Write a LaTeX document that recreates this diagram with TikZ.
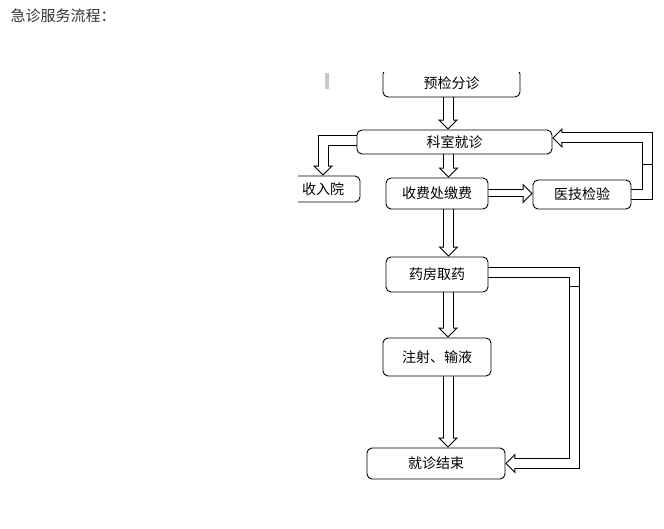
\documentclass[tikz,border=0pt]{standalone}
\usepackage{fontspec}
\setmainfont{Noto Sans CJK SC}
\usetikzlibrary{arrows.meta,backgrounds}
\usepackage{xcolor}
\definecolor{titlegray}{HTML}{333333}
\definecolor{cursorgray}{HTML}{C8C8C8}
\tikzset{%
  box/.style={draw, rounded corners=5pt, fill=white, line width=0.9pt, inner sep=0pt, font=\fontsize{14}{14}\selectfont},
  cross/.style={line width=1pt}
}

\begin{document}
\begin{tikzpicture}[x=1pt, y=-1pt]
    \useasboundingbox (0,0) rectangle (664,529);
    \node[anchor=west, text=titlegray, font=\fontsize{15}{15}\selectfont] (title) at (7,16) {急诊服务流程：};

    % the flow chart is cut at the top and on the left
    \begin{scope}
    \clip (298,73) rectangle (664,529);
    \fill[cursorgray] (325,73) rectangle (329,89);
    \node[box, minimum width=137pt, minimum height=28pt] (pre) at (451.5,83) {预检分诊};
    \node[box, minimum width=195pt, minimum height=24pt] (clinic) at (454.5,142) {科室就诊};
    \node[box, minimum width=74pt, minimum height=26pt] (admit) at (323,189) {收入院};
    \node[box, minimum width=102pt, minimum height=31pt] (pay) at (437,193.5) {收费处缴费};
    \node[box, minimum width=98pt, minimum height=29pt] (lab) at (582,194.5) {医技检验};
    \node[box, minimum width=102pt, minimum height=35pt] (pharm) at (437,274.5) {药房取药};
    \node[box, minimum width=108pt, minimum height=38pt] (inject) at (437,357) {注射、输液};
    \node[box, minimum width=138pt, minimum height=31pt] (done) at (436,463.5) {就诊结束};
    \end{scope}

    % hollow arrows: black pass, then white pass
    \begin{scope}[on background layer]
    \foreach \lw/\col/\hl/\hw/\gap in {11/black/10/20/0, 9/white/7.6/15.2/1.41} {
      \begin{scope}[color=\col, line width=\lw pt, line join=miter,
          -{Triangle[length=\hl pt, width=\hw pt, line width=0pt]}, shorten >=\gap pt]
        \draw ([xshift=-3.5pt]pre.south) -- ([xshift=-6.5pt]clinic.north);
        \draw ([xshift=-6pt]clinic.south) -- ([xshift=11.5pt]pay.north);
        \draw ([xshift=11.5pt]pay.south) -- ([xshift=11.5pt]pharm.north);
        \draw ([xshift=11pt]pharm.south) -- ([xshift=11pt]inject.north);
        \draw ([xshift=11pt]inject.south) -- ([xshift=12pt]done.north);
        \draw[line width=\lw pt-3pt] (pay.east) -- (pay.east -| lab.west);
        \draw ([yshift=1.5pt]clinic.west) -| (admit.north);
        \draw (lab.east) -- ++(16,0) |- ([yshift=4pt]clinic.east);
        \draw ([yshift=1.5pt]pharm.east) -- ++(86,0) |- (done.east);
      \end{scope}
    }
    \draw[cross] ([shift={(11,-29.5)}]lab.east) -- ++(10,0);
    \draw[cross] ([shift={(81,12.5)}]pharm.east) -- ++(10,0);
    \end{scope}
\end{tikzpicture}
\end{document}
